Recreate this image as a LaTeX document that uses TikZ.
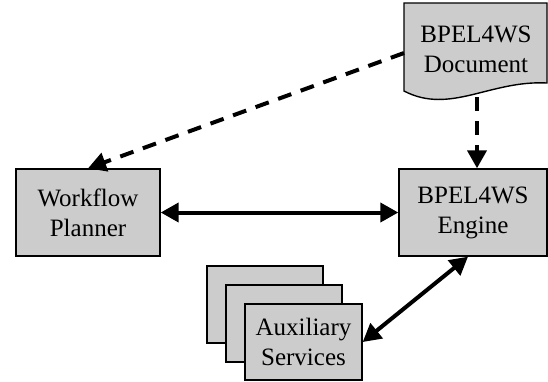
\documentclass[tikz,border=0pt]{standalone}
\usepackage{fontspec}
\setmainfont{Liberation Serif}
\usetikzlibrary{arrows.meta}
\colorlet{boxfill}{black!20}
\begin{document}
\begin{tikzpicture}[x=1pt,y=-1pt,
  lbl/.style={align=center, font=\fontsize{25}{30}\selectfont},
  box/.style={lbl, draw, line width=1.4pt, fill=boxfill, inner sep=0pt},
  link/.style={line width=4pt, -{Triangle[length=18pt,width=19pt]}},
  both/.style={line width=4pt, {Triangle[length=18pt,width=19pt]}-{Triangle[length=18pt,width=19pt]}},
  dlink/.style={link, dash pattern=on 14pt off 10pt}]
\useasboundingbox (0,0) rectangle (548,381);
% Workflow Planner
\node[box, minimum width=144pt, minimum height=87pt] (wp) at (88,212.5) {Workflow\\Planner};
% BPEL4WS Engine
\node[box, minimum width=148pt, minimum height=87pt] (eng) at (473,212.5) {BPEL4WS\\Engine};
% Auxiliary services stack
\node[box, minimum width=116pt, minimum height=77pt] (aux3) at (265,304.5) {};
\node[box, minimum width=116pt, minimum height=77pt] (aux2) at (284,323.5) {};
\node[box, minimum width=117pt, minimum height=76pt] (aux) at (303.5,342) {Auxiliary\\Services};
% BPEL4WS Document
\draw[line width=1.4pt, fill=boxfill] (404,3) -- (547,3) -- (547,83)
  .. controls (490,80) and (450,115) .. (404,91) -- cycle;
\node[lbl] (doc) at (476,49) {BPEL4WS\\Document};
\coordinate (docL) at (404,53);
\coordinate (docB) at (477,97);
% connectors
\draw[dlink] (docL) -- (wp.north);
\draw[dlink] (docB) -- (eng.north -| docB);
\draw[both] (wp.east) -- (eng.west);
\draw[both] ([xshift=-5pt]eng.south) -- (aux.east);
\end{tikzpicture}
\end{document}
